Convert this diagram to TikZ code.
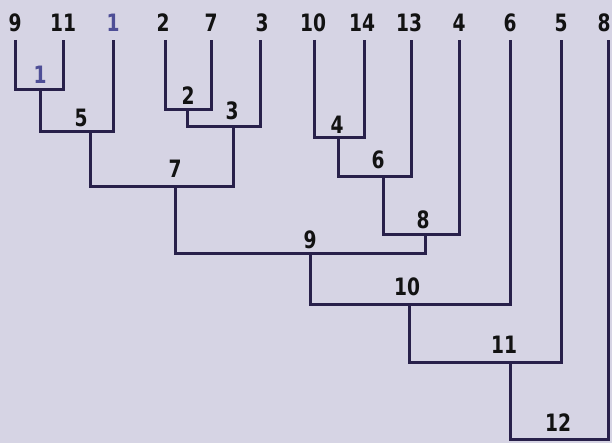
\documentclass[tikz,border=0pt]{standalone}
\usepackage{fontspec}
\setmainfont{DejaVu Sans}[FakeStretch=0.78]
\definecolor{bgc}{HTML}{D6D4E4}
\definecolor{linec}{HTML}{28204A}
\definecolor{txtc}{HTML}{121212}
\definecolor{bluec}{HTML}{4E4E96}
\tikzset{
  tree/.style={draw=linec, line width=3bp, line join=miter},
  lbl/.style={inner sep=0pt, text=txtc, font=\fontsize{24}{28}\selectfont\bfseries},
  blbl/.style={lbl, text=bluec}
}
\begin{document}
\begin{tikzpicture}[x=1bp, y=-1bp]
\fill[bgc] (0,0) rectangle (612,443);
\useasboundingbox (0,0) rectangle (612,443);
% leaf tops
\coordinate (t9) at (15,40);
\coordinate (t11) at (63,40);
\coordinate (t1) at (113,40);
\coordinate (t2) at (165,40);
\coordinate (t7) at (211,40);
\coordinate (t3) at (260,40);
\coordinate (t10) at (314,40);
\coordinate (t14) at (364,40);
\coordinate (t13) at (411,40);
\coordinate (t4) at (459,40);
\coordinate (t6) at (510,40);
\coordinate (t5) at (561,40);
\coordinate (t8) at (608,40);
% joins
\coordinate (j1) at (40,90);
\coordinate (j5) at (90,132);
\coordinate (j2) at (187,110);
\coordinate (j3) at (233,127);
\coordinate (j7) at (175,187);
\coordinate (j4) at (338,138);
\coordinate (j6) at (383,177);
\coordinate (j8) at (425,235);
\coordinate (j9) at (310,254);
\coordinate (j10) at (409,304);
\coordinate (j11) at (510,362);
\coordinate (j12) at (559,439);
% tree
\draw[tree] (t9) |- (j1) -| (t11);
\draw[tree] (j1) |- (j5) -| (t1);
\draw[tree] (t2) |- (j2) -| (t7);
\draw[tree] (j2) |- (j3) -| (t3);
\draw[tree] (j5) |- (j7) -| (j3);
\draw[tree] (t10) |- (j4) -| (t14);
\draw[tree] (j4) |- (j6) -| (t13);
\draw[tree] (j6) |- (j8) -| (t4);
\draw[tree] (j7) |- (j9) -| (j8);
\draw[tree] (j9) |- (j10) -| (t6);
\draw[tree] (j10) |- (j11) -| (t5);
\draw[tree] (j11) |- (j12) -| (t8);
% leaf labels
\node[lbl] (n9) at (15,23) {9};
\node[lbl] (n11) at (63,23) {11};
\node[blbl] (n1) at (113,23) {1};
\node[lbl] (n2) at (163,23) {2};
\node[lbl] (n7) at (211,23) {7};
\node[lbl] (n3) at (262,23) {3};
\node[lbl] (n10) at (313,23) {10};
\node[lbl] (n14) at (362,23) {14};
\node[lbl] (n13) at (409,23) {13};
\node[lbl] (n4) at (459,23) {4};
\node[lbl] (n6) at (510,23) {6};
\node[lbl] (n5) at (561,23) {5};
\node[lbl] (n8) at (604,23) {8};
% merge labels
\node[blbl] (m1) at (40,75) {1};
\node[lbl] (m5) at (81,118) {5};
\node[lbl] (m2) at (188,96) {2};
\node[lbl] (m3) at (232,111) {3};
\node[lbl] (m7) at (175,169) {7};
\node[lbl] (m4) at (337,125) {4};
\node[lbl] (m6) at (378,160) {6};
\node[lbl] (m8) at (423,220) {8};
\node[lbl] (m9) at (310,240) {9};
\node[lbl] (m10) at (407,287) {10};
\node[lbl] (m11) at (504,345) {11};
\node[lbl] (m12) at (558,423) {12};
\end{tikzpicture}
\end{document}
